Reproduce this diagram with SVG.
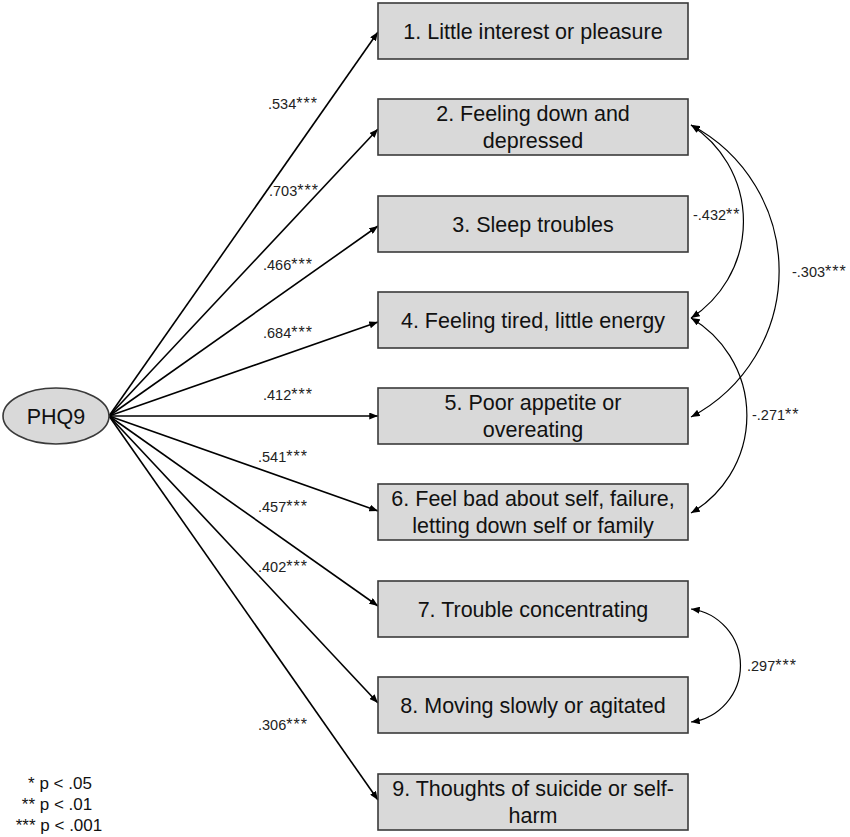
<svg xmlns="http://www.w3.org/2000/svg" width="850" height="837" viewBox="0 0 850 837">
<defs>
<marker id="ah" viewBox="0 0 10 8" refX="10" refY="4" markerWidth="9" markerHeight="7" markerUnits="userSpaceOnUse" orient="auto-start-reverse">
<path d="M0,0 L10,4 L0,8 z" fill="#000"/>
</marker>
<style>
.box{fill:#d9d9d9;stroke:#3a3a3a;stroke-width:1.6}
.nt{font-family:"Liberation Sans",Arial,sans-serif;font-size:21.5px;fill:#111;text-anchor:middle}
.lbl{font-family:"Liberation Sans",Arial,sans-serif;font-size:14.5px;fill:#222}
.st{font-size:16px;letter-spacing:1px}
.leg{font-family:"Liberation Sans",Arial,sans-serif;font-size:17px;fill:#111;text-anchor:middle}
.ln{stroke:#000;stroke-width:1.6;fill:none;marker-end:url(#ah)}
.cv{stroke:#000;stroke-width:1.2;fill:none;marker-start:url(#ah);marker-end:url(#ah)}
</style>
</defs>
<rect width="850" height="837" fill="#fff"/>

<g id="connectors">
<line class="ln" x1="109" y1="416" x2="378" y2="32"/>
<line class="ln" x1="109" y1="416" x2="378" y2="129"/>
<line class="ln" x1="109" y1="416" x2="378" y2="226"/>
<line class="ln" x1="109" y1="416" x2="378" y2="322"/>
<line class="ln" x1="109" y1="416" x2="378" y2="416"/>
<line class="ln" x1="109" y1="416" x2="378" y2="511"/>
<line class="ln" x1="109" y1="416" x2="378" y2="606"/>
<line class="ln" x1="109" y1="416" x2="378" y2="703"/>
<line class="ln" x1="109" y1="416" x2="378" y2="800"/>
<path class="cv" d="M691,125 A115,115 0 0 1 691,318"/>
<path class="cv" d="M691,125 A165,165 0 0 1 691,417"/>
<path class="cv" d="M691,318 A113,113 0 0 1 691,513"/>
<path class="cv" d="M691,609 A57,57 0 0 1 691,722"/>
</g>

<g id="edge-labels">
<text class="lbl" x="268" y="109">.534<tspan class="st">***</tspan></text>
<text class="lbl" x="269" y="196">.703<tspan class="st">***</tspan></text>
<text class="lbl" x="263" y="270">.466<tspan class="st">***</tspan></text>
<text class="lbl" x="263" y="338">.684<tspan class="st">***</tspan></text>
<text class="lbl" x="263" y="400">.412<tspan class="st">***</tspan></text>
<text class="lbl" x="258" y="462">.541<tspan class="st">***</tspan></text>
<text class="lbl" x="258" y="512">.457<tspan class="st">***</tspan></text>
<text class="lbl" x="258" y="572">.402<tspan class="st">***</tspan></text>
<text class="lbl" x="258" y="730">.306<tspan class="st">***</tspan></text>
<text class="lbl" x="693" y="220">-.432<tspan class="st">**</tspan></text>
<text class="lbl" x="792" y="277">-.303<tspan class="st">***</tspan></text>
<text class="lbl" x="752" y="420">-.271<tspan class="st">**</tspan></text>
<text class="lbl" x="747" y="671">.297<tspan class="st">***</tspan></text>
</g>

<g id="PHQ9">
<ellipse cx="56" cy="416" rx="53" ry="28" class="box"/>
<text class="nt" x="56" y="424">PHQ9</text>
</g>

<g id="n1">
<rect class="box" x="378" y="3" width="310" height="56"/>
<text class="nt" x="533" y="39">1. Little interest or pleasure</text>
</g>
<g id="n2">
<rect class="box" x="378" y="99" width="310" height="56"/>
<text class="nt" x="533" y="121">2. Feeling down and</text>
<text class="nt" x="533" y="148">depressed</text>
</g>
<g id="n3">
<rect class="box" x="378" y="196" width="310" height="56"/>
<text class="nt" x="533" y="232">3. Sleep troubles</text>
</g>
<g id="n4">
<rect class="box" x="378" y="292" width="310" height="56"/>
<text class="nt" x="533" y="328">4. Feeling tired, little energy</text>
</g>
<g id="n5">
<rect class="box" x="378" y="388" width="310" height="56"/>
<text class="nt" x="533" y="410">5. Poor appetite or</text>
<text class="nt" x="533" y="437">overeating</text>
</g>
<g id="n6">
<rect class="box" x="378" y="484" width="310" height="56"/>
<text class="nt" x="533" y="506">6. Feel bad about self, failure,</text>
<text class="nt" x="533" y="533">letting down self or family</text>
</g>
<g id="n7">
<rect class="box" x="378" y="581" width="310" height="56"/>
<text class="nt" x="533" y="617">7. Trouble concentrating</text>
</g>
<g id="n8">
<rect class="box" x="378" y="677" width="310" height="56"/>
<text class="nt" x="533" y="713">8. Moving slowly or agitated</text>
</g>
<g id="n9">
<rect class="box" x="378" y="774" width="310" height="56"/>
<text class="nt" x="533" y="796">9. Thoughts of suicide or self-</text>
<text class="nt" x="533" y="823">harm</text>
</g>

<g id="legend">
<text class="leg" x="60" y="789">* p &lt; .05</text>
<text class="leg" x="57" y="810">** p &lt; .01</text>
<text class="leg" x="59" y="831">*** p &lt; .001</text>
</g>
</svg>
